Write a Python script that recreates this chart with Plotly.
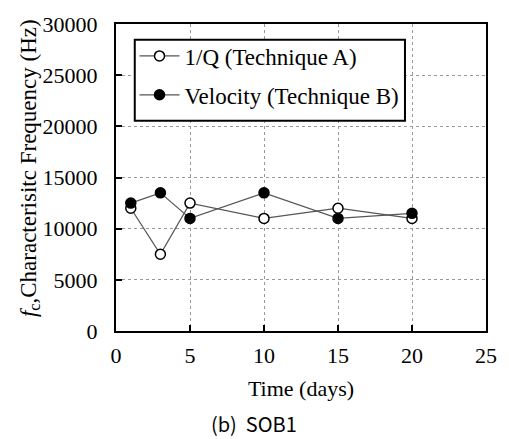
import plotly.graph_objects as go

days = [1, 3, 5, 10, 15, 20]
freq_q = [12000, 7500, 12500, 11000, 12000, 11000]        # 1/Q (Technique A)
freq_vel = [12500, 13500, 11000, 13500, 11000, 11500]     # Velocity (Technique B)

x_ticks = [0, 5, 10, 15, 20, 25]
y_ticks = [0, 5000, 10000, 15000, 20000, 25000, 30000]

serif = "Liberation Serif"

fig = go.Figure()
fig.add_trace(go.Scatter(
    x=days, y=freq_q, mode="lines+markers", name="1/Q (Technique A)",
    legendgroup="a",
    line=dict(color="#555555", width=1.2),
    marker=dict(symbol="circle", size=10, color="white",
                line=dict(color="black", width=1.5)),
))
fig.add_trace(go.Scatter(
    x=days, y=freq_vel, mode="lines+markers", name="Velocity (Technique B)",
    legendgroup="b",
    line=dict(color="#555555", width=1.2),
    marker=dict(symbol="circle", size=10, color="black",
                line=dict(color="black", width=1.5)),
))

axis_common = dict(
    showline=True, linecolor="black", linewidth=2, mirror=True,
    ticks="inside", ticklen=6, tickwidth=2, tickcolor="black",
    showgrid=True, gridcolor="#999999", gridwidth=1, griddash="dot",
    zeroline=False, tickfont=dict(family=serif, size=22, color="black"),
)

fig.update_xaxes(
    range=[0, 25], tickvals=x_ticks, ticktext=[str(v) for v in x_ticks],
    ticklabelstandoff=4,
    title=dict(text="Time (days)", font=dict(family=serif, size=22, color="black"),
               standoff=13),
    **axis_common,
)
fig.update_yaxes(
    range=[0, 30000], tickvals=y_ticks, ticktext=[str(v) for v in y_ticks],
    ticklabelstandoff=12,
    **axis_common,
)

# vertical axis title placed as a rotated annotation
fig.add_annotation(
    text="<i>f</i><sub>c</sub>,Characterisitc Frequency (Hz)",
    xref="paper", yref="paper", x=-0.233, y=0.53,
    xanchor="center", yanchor="middle", textangle=-90, showarrow=False,
    font=dict(family=serif, size=23, color="black"),
)

# figure caption
fig.add_annotation(
    text="(b)  SOB1", xref="paper", yref="paper", x=0.373, y=-0.302,
    xanchor="center", yanchor="middle", showarrow=False,
    font=dict(family="Noto Sans CJK KR", size=20, color="black"),
)

# legend frame
fig.add_shape(
    type="rect", xref="paper", yref="paper",
    x0=0.0507, x1=0.781, y0=0.685, y1=0.949,
    line=dict(color="black", width=2), fillcolor="white", layer="above",
)

fig.update_layout(
    width=509, height=439,
    margin=dict(l=116, r=17, t=17, b=108),
    paper_bgcolor="white", plot_bgcolor="white",
    showlegend=True,
    legend=dict(
        x=0.05, y=0.966, xanchor="left", yanchor="top",
        bgcolor="rgba(0,0,0,0)", borderwidth=0,
        font=dict(family=serif, size=23, color="black"),
        traceorder="grouped", tracegroupgap=6, itemwidth=40,
    ),
)

fig.write_html("out.html")
